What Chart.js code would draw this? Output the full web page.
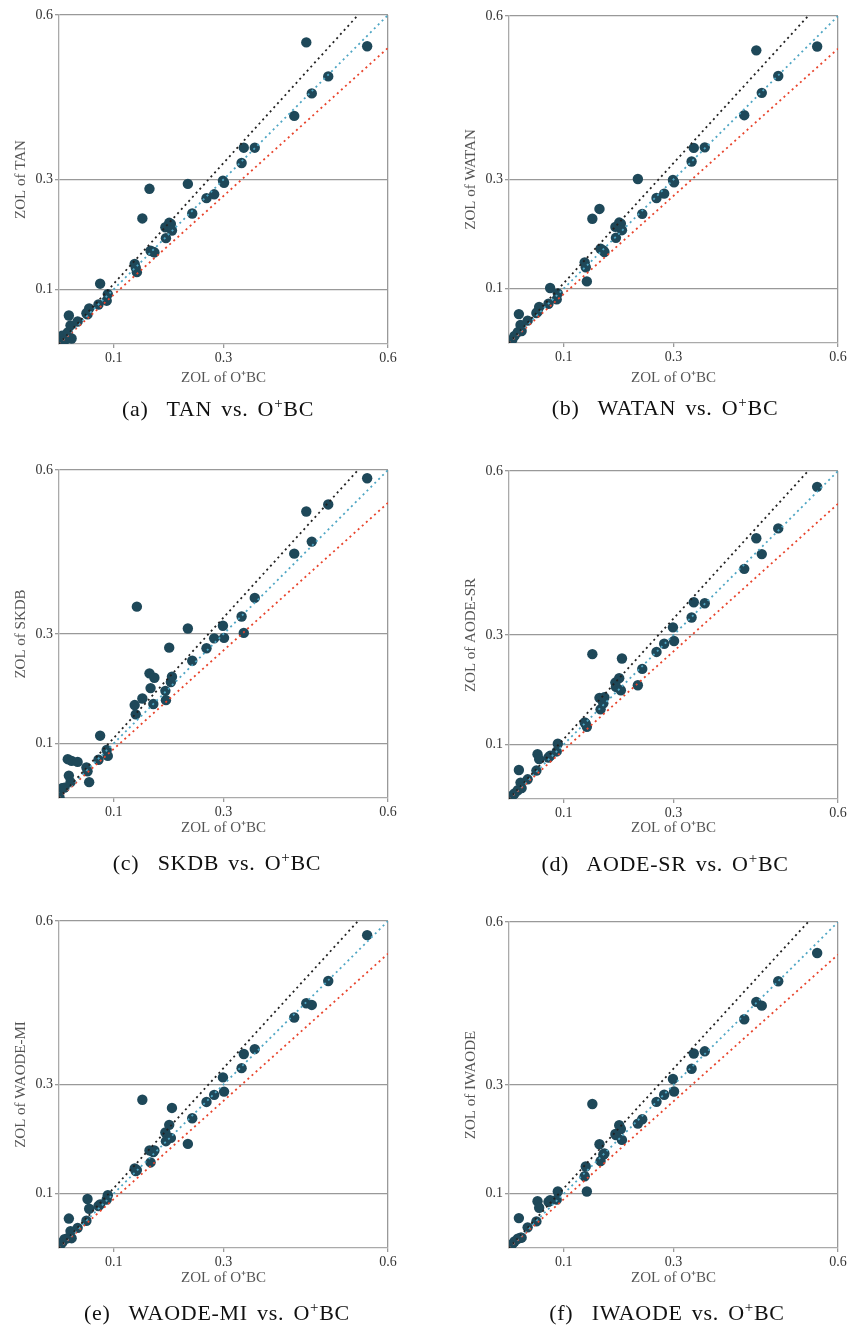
<!DOCTYPE html>
<html>
<head>
<meta charset="utf-8">
<script src="https://cdn.jsdelivr.net/npm/chart.js@4.4.1/dist/chart.umd.min.js"></script>
<style>
	html, body { margin: 0; padding: 0; background: #fff; }
	#page { position: relative; width: 861px; height: 1330px; overflow: hidden; }
	.panel { position: absolute; width: 410px; height: 400px; }
	.caption {
		position: absolute; width: 430px; text-align: center;
		font-family: "Liberation Serif", serif; font-size: 22px; color: #111;
		letter-spacing: 0.7px; word-spacing: 3px;
		white-space: pre; line-height: 26px;
	}
	.caption sup { font-size: 15px; vertical-align: 8px; line-height: 0; }
</style>
</head>
<body>
<div id="page"></div>
<script>
// ZOL of O+BC for each dataset (shared x values)
var obcZol = [0.001, 0.006, 0.010, 0.016, 0.018, 0.021, 0.023, 0.034, 0.050, 0.052,
	0.055, 0.072, 0.075, 0.087, 0.089, 0.138, 0.140, 0.142, 0.152, 0.165,
	0.167, 0.172, 0.174, 0.194, 0.195, 0.201, 0.204, 0.206, 0.235, 0.243,
	0.269, 0.283, 0.299, 0.301, 0.333, 0.337, 0.357, 0.429, 0.451, 0.461,
	0.491, 0.562];

var tanZol = [0.001, 0.015, 0.006, 0.021, 0.052, 0.034, 0.010, 0.041, 0.056, 0.054,
	0.065, 0.072, 0.110, 0.079, 0.091, 0.146, 0.139, 0.131, 0.229, 0.283,
	0.170, 0.168, 0.167, 0.213, 0.193, 0.221, 0.219, 0.207, 0.292, 0.238,
	0.266, 0.273, 0.298, 0.294, 0.330, 0.358, 0.358, 0.416, 0.550, 0.457,
	0.488, 0.543];

var watanZol = [0.001, 0.006, 0.013, 0.020, 0.053, 0.033, 0.022, 0.041, 0.055, 0.057,
	0.066, 0.072, 0.101, 0.080, 0.091, 0.148, 0.139, 0.113, 0.228, 0.246,
	0.173, 0.170, 0.167, 0.213, 0.193, 0.221, 0.219, 0.207, 0.301, 0.237,
	0.266, 0.274, 0.299, 0.295, 0.333, 0.358, 0.359, 0.418, 0.537, 0.459,
	0.490, 0.544];

var skdbZol = [0.001, 0.018, 0.019, 0.071, 0.041, 0.029, 0.068, 0.066, 0.056, 0.049,
	0.029, 0.070, 0.114, 0.088, 0.077, 0.170, 0.153, 0.350, 0.182, 0.228,
	0.201, 0.172, 0.220, 0.196, 0.179, 0.275, 0.212, 0.222, 0.310, 0.251,
	0.274, 0.292, 0.315, 0.293, 0.332, 0.302, 0.366, 0.447, 0.524, 0.469,
	0.537, 0.585];

var aodeSrZol = [0.001, 0.006, 0.010, 0.016, 0.053, 0.030, 0.020, 0.036, 0.052, 0.082,
	0.073, 0.076, 0.079, 0.087, 0.101, 0.140, 0.138, 0.132, 0.265, 0.185,
	0.164, 0.175, 0.186, 0.213, 0.205, 0.221, 0.199, 0.257, 0.208, 0.238,
	0.269, 0.284, 0.314, 0.289, 0.332, 0.360, 0.358, 0.421, 0.477, 0.448,
	0.495, 0.571];

var waodeMiZol = [0.001, 0.010, 0.016, 0.018, 0.054, 0.031, 0.018, 0.037, 0.050, 0.090,
	0.072, 0.077, 0.080, 0.089, 0.097, 0.146, 0.141, 0.143, 0.272, 0.179,
	0.157, 0.176, 0.179, 0.212, 0.196, 0.226, 0.202, 0.257, 0.191, 0.238,
	0.268, 0.281, 0.313, 0.287, 0.330, 0.356, 0.365, 0.423, 0.449, 0.446,
	0.490, 0.574];

var iwaodeZol = [0.001, 0.007, 0.012, 0.017, 0.055, 0.019, 0.019, 0.038, 0.049, 0.086,
	0.074, 0.085, 0.088, 0.089, 0.104, 0.132, 0.150, 0.104, 0.265, 0.191,
	0.160, 0.172, 0.174, 0.210, 0.208, 0.226, 0.219, 0.199, 0.229, 0.237,
	0.269, 0.282, 0.311, 0.288, 0.330, 0.358, 0.362, 0.421, 0.453, 0.446,
	0.491, 0.543];

var tickValues = [0.1, 0.3, 0.6];
var axisMax = 0.6;
var refRatios = [1.1, 1.0, 0.9];
var refColors = ['#222222', '#4fa6c4', '#e8442c'];

var panels = [
	{ letter: 'a', name: 'TAN', ys: tanZol, left: 0, top: 0, plotTop: 15, plotBottom: 344, capX: 218 },
	{ letter: 'b', name: 'WATAN', ys: watanZol, left: 450, top: 0, plotTop: 16, plotBottom: 343, capX: 665 },
	{ letter: 'c', name: 'SKDB', ys: skdbZol, left: 0, top: 450, plotTop: 20, plotBottom: 348, capX: 217 },
	{ letter: 'd', name: 'AODE-SR', ys: aodeSrZol, left: 450, top: 450, plotTop: 21, plotBottom: 349, capX: 665 },
	{ letter: 'e', name: 'WAODE-MI', ys: waodeMiZol, left: 0, top: 900, plotTop: 21, plotBottom: 348, capX: 217 },
	{ letter: 'f', name: 'IWAODE', ys: iwaodeZol, left: 450, top: 900, plotTop: 22, plotBottom: 348, capX: 667 }
];

var serif = '"Liberation Serif", "Times New Roman", serif';
var page = document.getElementById('page');

function refLine(ratio, color) {
	var endX = Math.min(axisMax, axisMax / ratio);
	return {
		type: 'line',
		data: [{ x: 0, y: 0 }, { x: endX, y: endX * ratio }],
		borderColor: color,
		borderWidth: 1.8,
		borderDash: [2, 3.5],
		pointRadius: 0,
		fill: false,
		order: 1
	};
}

function fixedTicks(scale) {
	scale.ticks = tickValues.map(function (v) { return { value: v }; });
}

function makePanel(p) {
	var box = document.createElement('div');
	box.className = 'panel';
	box.style.left = p.left + 'px';
	box.style.top = p.top + 'px';
	var canvas = document.createElement('canvas');
	canvas.width = 410;
	canvas.height = 400;
	box.appendChild(canvas);
	page.appendChild(box);

	var cap = document.createElement('div');
	cap.className = 'caption';
	cap.style.left = (p.capX - 215) + 'px';
	cap.style.top = (p.top + p.plotBottom + 52) + 'px';
	cap.innerHTML = '(' + p.letter + ')  ' + p.name + ' vs. O<sup>+</sup>BC';
	page.appendChild(cap);

	var points = obcZol.map(function (x, i) { return { x: x, y: p.ys[i] }; });
	var datasets = [{
		type: 'scatter',
		data: points,
		backgroundColor: '#1e4859',
		borderColor: '#1e4859',
		pointRadius: 5.2,
		pointBorderWidth: 0,
		order: 2
	}];
	for (var i = 0; i < refRatios.length; i++) {
		datasets.push(refLine(refRatios[i], refColors[i]));
	}

	new Chart(canvas, {
		type: 'scatter',
		data: { datasets: datasets },
		options: {
			responsive: false,
			animation: false,
			devicePixelRatio: 1,
			layout: { padding: { left: 0, top: p.plotTop, right: 22, bottom: 0 } },
			plugins: { legend: { display: false }, tooltip: { enabled: false } },
			scales: {
				x: {
					type: 'linear', min: 0, max: axisMax,
					afterBuildTicks: fixedTicks,
					afterFit: function (s) { s.height = 400 - p.plotBottom; },
					ticks: {
						font: { family: serif, size: 14 }, color: '#333',
						padding: 2, maxRotation: 0,
						callback: function (v) { return String(v); }
					},
					grid: {
						color: function (ctx) { return ctx.tick && ctx.tick.value === axisMax ? '#999' : 'rgba(0,0,0,0)'; },
						tickColor: '#999', tickLength: 4, lineWidth: 1.3
					},
					border: { display: true, color: '#aaa', width: 1.3 },
					title: {
						display: true, text: 'ZOL of O\u207ABC',
						font: { family: serif, size: 15 }, color: '#555',
						padding: { top: 0, bottom: 13 }
					}
				},
				y: {
					type: 'linear', min: 0, max: axisMax,
					afterBuildTicks: fixedTicks,
					afterFit: function (s) { s.width = 59; },
					ticks: {
						font: { family: serif, size: 14 }, color: '#333',
						padding: 2,
						callback: function (v) { return String(v); }
					},
					grid: { color: '#999', tickColor: '#999', tickLength: 4, lineWidth: 1.3 },
					border: { display: true, color: '#aaa', width: 1.3 },
					title: {
						display: true, text: 'ZOL of ' + p.name,
						font: { family: serif, size: 15 }, color: '#555',
						padding: { top: 12, bottom: 0 }
					}
				}
			}
		}
	});
}

// make sure the serif face is ready before the canvases draw text
Promise.all([
	document.fonts.load('14px "Liberation Serif"'),
	document.fonts.load('15px "Liberation Serif"')
]).catch(function () {}).then(function () {
	panels.forEach(makePanel);
});
</script>
</body>
</html>
